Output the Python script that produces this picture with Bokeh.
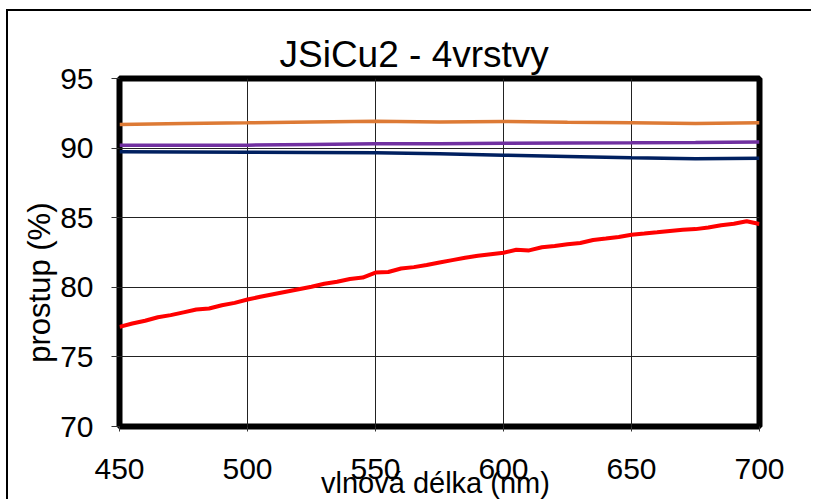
from bokeh.plotting import figure
from bokeh.models import Range1d, FixedTicker
from bokeh.embed import file_html
from bokeh.resources import INLINE

# ---- data ----
wl_red = [450, 455, 460, 465, 470, 475, 480, 485, 490, 495, 500, 505, 510, 515, 520,
          525, 530, 535, 540, 545, 550, 555, 560, 565, 570, 575, 580, 585, 590, 595,
          600, 605, 610, 615, 620, 625, 630, 635, 640, 645, 650, 655, 660, 665, 670,
          675, 680, 685, 690, 695, 700]
red = [77.16, 77.4, 77.6, 77.85, 78.0, 78.2, 78.4, 78.48, 78.71, 78.88, 79.12, 79.32, 79.5,
       79.68, 79.86, 80.04, 80.25, 80.4, 80.6, 80.7, 81.06, 81.1, 81.35, 81.45, 81.6, 81.78,
       81.95, 82.12, 82.26, 82.38, 82.48, 82.7, 82.65, 82.88, 82.97, 83.1, 83.18, 83.4, 83.5,
       83.62, 83.78, 83.86, 83.95, 84.05, 84.14, 84.18, 84.3, 84.46, 84.56, 84.75, 84.55]

wl = [450, 475, 500, 525, 550, 575, 600, 625, 650, 675, 700]
orange = [91.70, 91.77, 91.82, 91.88, 91.93, 91.88, 91.91, 91.86, 91.82, 91.77, 91.82]
purple = [90.21, 90.21, 90.21, 90.26, 90.31, 90.31, 90.35, 90.37, 90.38, 90.40, 90.43]
navy = [89.73, 89.72, 89.71, 89.69, 89.66, 89.60, 89.49, 89.40, 89.30, 89.23, 89.27]

x_ticks = [450, 500, 550, 600, 650, 700]
y_ticks = [70, 75, 80, 85, 90, 95]

title_text = "JSiCu2 - 4vrstvy"
x_label = "vlnová délka  (nm)"
y_label = "prostup  (%)" + "\u00a0" * 6

FONT = "Liberation Sans"

p = figure(width=805, height=490, output_backend="svg", toolbar_location=None,
           x_range=Range1d(450, 700), y_range=Range1d(70, 95),
           min_border_left=111, min_border_right=54, min_border_top=67,
           min_border_bottom=75, background_fill_color="white",
           border_fill_color="white")
p.styles = {"border-left": "2px solid black", "border-top": "2px solid black",
            "margin-left": "6px", "margin-top": "9px"}

p.title.text = title_text
p.title.text_font = FONT
p.title.text_font_size = "37px"
p.title.text_font_style = "normal"
p.title.text_color = "black"
p.title.align = "left"
p.title.offset = 160
p.title.standoff = 7

p.outline_line_color = "black"
p.outline_line_width = 6

for ax in (p.xaxis[0], p.yaxis[0]):
    ax.axis_line_color = None
    ax.major_tick_in = 0
    ax.minor_tick_line_color = None
    ax.major_tick_line_color = "#333333"
    ax.major_tick_line_width = 1
    ax.major_label_text_font = FONT
    ax.major_label_text_font_size = "30px"
    ax.major_label_text_color = "black"
    ax.axis_label_text_font = FONT
    ax.axis_label_text_font_style = "normal"
    ax.axis_label_text_color = "black"

p.xaxis.ticker = FixedTicker(ticks=x_ticks)
p.yaxis.ticker = FixedTicker(ticks=y_ticks)
p.xaxis.major_tick_out = 5
p.yaxis.major_tick_out = 8
p.xaxis.major_label_standoff = 27
p.yaxis.major_label_standoff = 18
p.xaxis.axis_label = x_label
p.yaxis.axis_label = y_label
p.xaxis.axis_label_text_font_size = "29px"
p.yaxis.axis_label_text_font_size = "31px"
p.xaxis.axis_label_standoff = -15
p.yaxis.axis_label_standoff = 0

p.grid.grid_line_color = "#222222"
p.grid.grid_line_width = 1
p.xgrid.ticker = FixedTicker(ticks=x_ticks)
p.ygrid.ticker = FixedTicker(ticks=y_ticks)

p.line(wl, orange, line_color="#DD7A35", line_width=3.5)
p.line(wl, purple, line_color="#7030A0", line_width=3.5)
p.line(wl, navy, line_color="#002060", line_width=3.5)
p.line(wl_red, red, line_color="#FF0000", line_width=4)

open("out.html", "w").write(file_html(p, INLINE))
